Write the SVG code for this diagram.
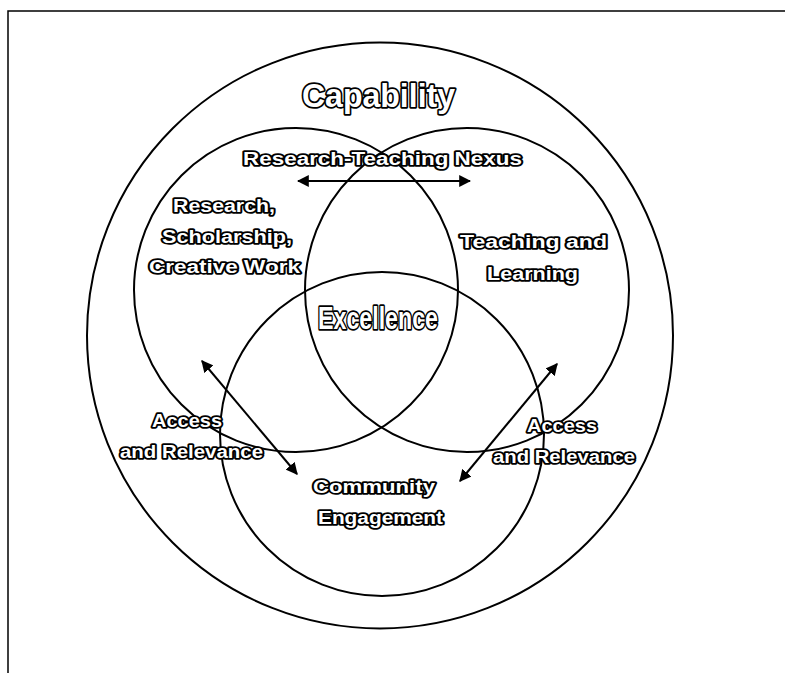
<svg xmlns="http://www.w3.org/2000/svg" width="785" height="673" viewBox="0 0 785 673">
<style>
.c{fill:none;stroke:#000;stroke-width:2}
.f{fill:none;stroke:#000;stroke-width:1.5}
.t{font-family:"Liberation Sans",Arial,sans-serif;font-weight:bold;fill:#fff;stroke:#000;stroke-width:3.5;paint-order:stroke fill;stroke-linejoin:round;text-anchor:start}
.a{stroke:#000;stroke-width:2;fill:none}
</style>
<defs>
<marker id="ah" viewBox="0 0 10 10" refX="9" refY="5" markerWidth="6" markerHeight="6" orient="auto-start-reverse" markerUnits="strokeWidth">
<path d="M0,0 L10,5 L0,10 z" fill="#000"/>
</marker>
</defs>
<rect width="785" height="673" fill="#fff"/>
<g id="frame">
<path class="f" d="M8,673 L8,11 L785,11"/>
</g>
<g id="capability">
<circle class="c" cx="380" cy="335.5" r="293"/>
<text class="t" x="302" y="107" font-size="33" textLength="153" lengthAdjust="spacingAndGlyphs">Capability</text>
</g>
<g id="research">
<circle class="c" cx="296" cy="290" r="162"/>
<text class="t" x="173" y="212" font-size="18" textLength="102" lengthAdjust="spacingAndGlyphs">Research,</text>
<text class="t" x="162" y="243" font-size="18" textLength="130" lengthAdjust="spacingAndGlyphs">Scholarship,</text>
<text class="t" x="149" y="273" font-size="18" textLength="151" lengthAdjust="spacingAndGlyphs">Creative Work</text>
</g>
<g id="teaching">
<circle class="c" cx="467" cy="290" r="162"/>
<text class="t" x="460" y="248" font-size="18" textLength="147" lengthAdjust="spacingAndGlyphs">Teaching and</text>
<text class="t" x="487" y="280" font-size="18" textLength="91" lengthAdjust="spacingAndGlyphs">Learning</text>
</g>
<g id="community">
<circle class="c" cx="382" cy="434" r="162"/>
<text class="t" x="313" y="493" font-size="18" textLength="122" lengthAdjust="spacingAndGlyphs">Community</text>
<text class="t" x="318" y="524" font-size="18" textLength="125" lengthAdjust="spacingAndGlyphs">Engagement</text>
</g>
<g id="excellence">
<text class="t" x="318" y="329" font-size="32" textLength="120" lengthAdjust="spacingAndGlyphs">Excellence</text>
</g>
<g id="labels">
<text class="t" x="243" y="165" font-size="18" textLength="279" lengthAdjust="spacingAndGlyphs">Research-Teaching Nexus</text>
<text class="t" x="152" y="427" font-size="18" textLength="70" lengthAdjust="spacingAndGlyphs">Access</text>
<text class="t" x="120" y="458" font-size="18" textLength="143" lengthAdjust="spacingAndGlyphs">and Relevance</text>
<text class="t" x="527" y="432" font-size="18" textLength="70" lengthAdjust="spacingAndGlyphs">Access</text>
<text class="t" x="493" y="463" font-size="18" textLength="142" lengthAdjust="spacingAndGlyphs">and Relevance</text>
</g>
<g id="connectors">
<line class="a" x1="298" y1="181" x2="470" y2="181" marker-start="url(#ah)" marker-end="url(#ah)"/>
<line class="a" x1="202" y1="361" x2="297" y2="474" marker-start="url(#ah)" marker-end="url(#ah)"/>
<line class="a" x1="557" y1="364" x2="460" y2="481" marker-start="url(#ah)" marker-end="url(#ah)"/>
</g>
</svg>
